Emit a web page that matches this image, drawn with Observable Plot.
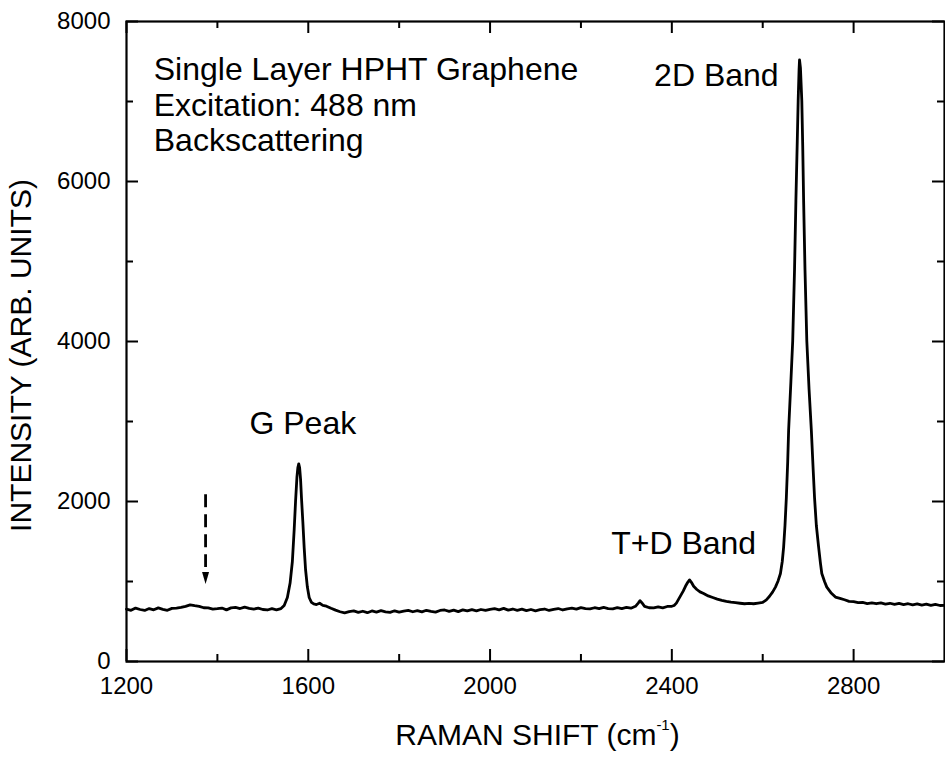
<!DOCTYPE html>
<html><head><meta charset="utf-8">
<script src="https://cdn.jsdelivr.net/npm/d3@7"></script>
<script src="https://cdn.jsdelivr.net/npm/@observablehq/plot@0.6"></script>
<style>
html,body{margin:0;padding:0;background:#fff;}
#chart svg{display:block;}
</style></head><body><div id="chart"></div>
<script>
// Raman shift (cm^-1) and intensity (arb. units)
const ramanShift = [
1200,1210,1220,1230,1240,1250,1260,1270,1280,1290,1300,1310,1320,1330,1340,1350,1360,1370,1380,1390,
1400,1410,1420,1430,1440,1450,1460,1470,1480,1490,1500,1510,1520,1530,1540,
1547,1554,1560,1565,1569,1572,1575,1577,1579,1581,1583,1585,1588,1591,1594,1598,1602,1607,1612,1618,1625,1632,1640,1650,
1660,1670,1680,1690,1700,1710,1720,1730,1740,1750,1760,1770,1780,1790,1800,1810,1820,1830,1840,1850,
1860,1870,1880,1890,1900,1910,1920,1930,1940,1950,1960,1970,1980,1990,2000,2010,2020,2030,2040,2050,
2060,2070,2080,2090,2100,2110,2120,2130,2140,2150,2160,2170,2180,2190,2200,2210,2220,2230,2240,2250,
2260,2270,2280,2290,2300,2310,2320,2326,2330,2334,2340,2350,2360,2370,2380,2390,2400,2405,2410,2415,
2420,2425,2430,2435,2439,2443,2448,2455,2462,2470,2480,2490,2500,2510,2520,2530,2540,2550,2560,2570,
2580,2590,2600,2608,2615,2622,2628,2634,2639,2643,2646,2649,2652,2655,2657,2662,2666,2670,2673,2676,
2678,2680,2681,2683,2686,2688,2690,2693,2697,2702,2707,2711,2714,2718,2723,2727,2730,2736,2741,2750,
2760,2770,2780,2790,2800,2810,2820,2830,2840,2850,2860,2870,2880,2890,2900,2910,2920,2930,2940,2950,
2960,2970,2980,2990,3000
];
const intensity = [
655,640,668,650,638,662,646,670,652,640,664,668,676,690,708,698,690,672,670,655,
660,668,645,670,676,662,680,664,655,668,650,644,660,646,662,
700,800,980,1250,1650,2000,2300,2420,2470,2420,2280,2050,1750,1420,1150,930,800,740,720,712,728,702,692,665,
642,622,608,624,632,614,628,610,632,618,636,620,614,634,618,630,638,622,636,620,
640,626,618,638,644,626,642,624,646,632,648,634,650,638,652,660,646,664,642,656,
640,654,636,650,634,648,656,638,652,662,644,658,666,654,674,662,658,672,660,676,
662,658,674,662,676,666,690,730,760,735,690,672,670,682,670,688,690,700,730,780,
830,880,940,990,1020,990,940,900,870,850,820,800,780,765,752,742,735,728,722,726,
722,730,738,770,815,870,930,1010,1100,1250,1430,1700,2050,2500,2890,3500,4010,4900,5760,6500,
7010,7400,7520,7420,7010,6450,5760,4900,4010,3400,2890,2400,2050,1700,1430,1230,1100,1000,930,860,
805,790,772,752,748,736,738,724,734,722,732,718,728,714,726,712,722,708,720,706,
716,702,714,700,702
];

const xMajorTicks = [1200, 1600, 2000, 2400, 2800];
const xMinorTicks = [1400, 1800, 2200, 2600];
const yMajorTicks = [0, 2000, 4000, 6000, 8000];
const yMinorTicks = [1000, 3000, 5000, 7000];

const xTitle = "RAMAN SHIFT (cm-1)";
const yTitle = "INTENSITY (ARB. UNITS)";

const infoText = ["Single Layer HPHT Graphene\nExcitation: 488 nm\nBackscattering"];
const infoX = [1260];
const infoY = [7584];
const peakText = ["G Peak", "T+D Band"];
const peakX = [1588, 2426];
const peakY = [2977, 1477];
const bandText = ["2D Band"];
const bandX = [2635];
const bandY = [7328];

// dashed arrow marking the (absent) D band
const arrowX = [1374];
const arrowTop = [2090];
const arrowDashEnd = [1180];
const arrowHead = [1044];

const spectrum = ramanShift.map((x, i) => ({x, y: intensity[i]}));
const info = infoText.map((t, i) => ({t, x: infoX[i], y: infoY[i]}));
const peaks = peakText.map((t, i) => ({t, x: peakX[i], y: peakY[i]}));
const bands = bandText.map((t, i) => ({t, x: bandX[i], y: bandY[i]}));
const arrows = arrowX.map((x, i) => ({x, y1: arrowTop[i], y2: arrowDashEnd[i], yh: arrowHead[i]}));

const downTriangle = {
  draw(context) {
    context.moveTo(-3.5, -6);
    context.lineTo(3.5, -6);
    context.lineTo(0, 6);
    context.closePath();
  }
};

// layout (pixels) used to convert tick lengths into data units
const W = 945, H = 757, mL = 126, mR = 1, mT = 21, mB = 96;
const xDomain = [1200, 3000], yDomain = [0, 8000];
const pxX = (xDomain[1] - xDomain[0]) / (W - mL - mR);
const pxY = (yDomain[1] - yDomain[0]) / (H - mT - mB);
const major = 12, minor = 7;

const font = "'Liberation Sans', Arial, Helvetica, sans-serif";
const tickStyle = {stroke: "black", strokeWidth: 2};

const svg = Plot.plot({
  width: W,
  height: H,
  marginLeft: mL,
  marginRight: mR,
  marginTop: mT,
  marginBottom: mB,
  style: {fontFamily: font, fontSize: "24px", background: "white", color: "black", overflow: "visible"},
  x: {domain: xDomain},
  y: {domain: yDomain},
  marks: [
    // inward ticks on all four sides
    Plot.ruleX(xMajorTicks, {x: d => d, y1: yDomain[0], y2: yDomain[0] + major * pxY, ...tickStyle}),
    Plot.ruleX(xMinorTicks, {x: d => d, y1: yDomain[0], y2: yDomain[0] + minor * pxY, ...tickStyle}),
    Plot.ruleX(xMajorTicks, {x: d => d, y1: yDomain[1], y2: yDomain[1] - major * pxY, ...tickStyle}),
    Plot.ruleX(xMinorTicks, {x: d => d, y1: yDomain[1], y2: yDomain[1] - minor * pxY, ...tickStyle}),
    Plot.ruleY(yMajorTicks, {y: d => d, x1: xDomain[0], x2: xDomain[0] + major * pxX, ...tickStyle}),
    Plot.ruleY(yMinorTicks, {y: d => d, x1: xDomain[0], x2: xDomain[0] + minor * pxX, ...tickStyle}),
    Plot.ruleY(yMajorTicks, {y: d => d, x1: xDomain[1], x2: xDomain[1] - major * pxX, ...tickStyle}),
    Plot.ruleY(yMinorTicks, {y: d => d, x1: xDomain[1], x2: xDomain[1] - minor * pxX, ...tickStyle}),
    // tick labels
    Plot.axisX({anchor: "bottom", ticks: xMajorTicks, tickSize: 0, tickPadding: 15, tickFormat: d => String(d), label: null, fontSize: 24, fill: "black"}),
    Plot.axisY({anchor: "left", ticks: yMajorTicks, tickSize: 0, tickPadding: 16, tickFormat: d => String(d), label: null, fontSize: 24, fill: "black"}),
    Plot.frame({stroke: "black", strokeWidth: 2.2}),
    // axis titles
    Plot.text([xTitle], {text: d => d, frameAnchor: "bottom", textAnchor: "middle", dx: 2, dy: 74, lineAnchor: "middle", fontSize: 30, fill: "black"}),
    Plot.text([yTitle], {text: d => d, frameAnchor: "left", textAnchor: "middle", dx: -105, dy: 14, rotate: -90, lineAnchor: "middle", fontSize: 30, fill: "black"}),
    // spectrum
    Plot.line(spectrum, {x: "x", y: "y", stroke: "black", strokeWidth: 2.8, strokeLinejoin: "round", strokeLinecap: "round"}),
    // annotations
    Plot.text(info, {x: "x", y: "y", text: "t", textAnchor: "start", lineAnchor: "top", fontSize: 32, lineHeight: 1.11, fill: "black"}),
    Plot.text(peaks, {x: "x", y: "y", text: "t", textAnchor: "middle", lineAnchor: "middle", fontSize: 32, fill: "black"}),
    Plot.text(bands, {x: "x", y: "y", text: "t", textAnchor: "end", lineAnchor: "middle", fontSize: 32, fill: "black"}),
    // dashed arrow
    Plot.link(arrows, {x1: "x", x2: "x", y1: "y1", y2: "y2", stroke: "black", strokeWidth: 2.8, strokeDasharray: "13,7"}),
    Plot.dot(arrows, {x: "x", y: "yh", symbol: downTriangle, fill: "black", stroke: "none"})
  ]
});

// superscript in the x-axis title
d3.select(svg).selectAll("text").filter(function () { return this.textContent === xTitle; }).each(function () {
  const t = d3.select(this);
  t.text(null);
  t.append("tspan").text("RAMAN SHIFT (cm");
  t.append("tspan").attr("dy", -15).attr("font-size", 15).text("-1");
  t.append("tspan").attr("dy", 15).text(")");
});

document.getElementById("chart").appendChild(svg);
</script>
</body></html>
